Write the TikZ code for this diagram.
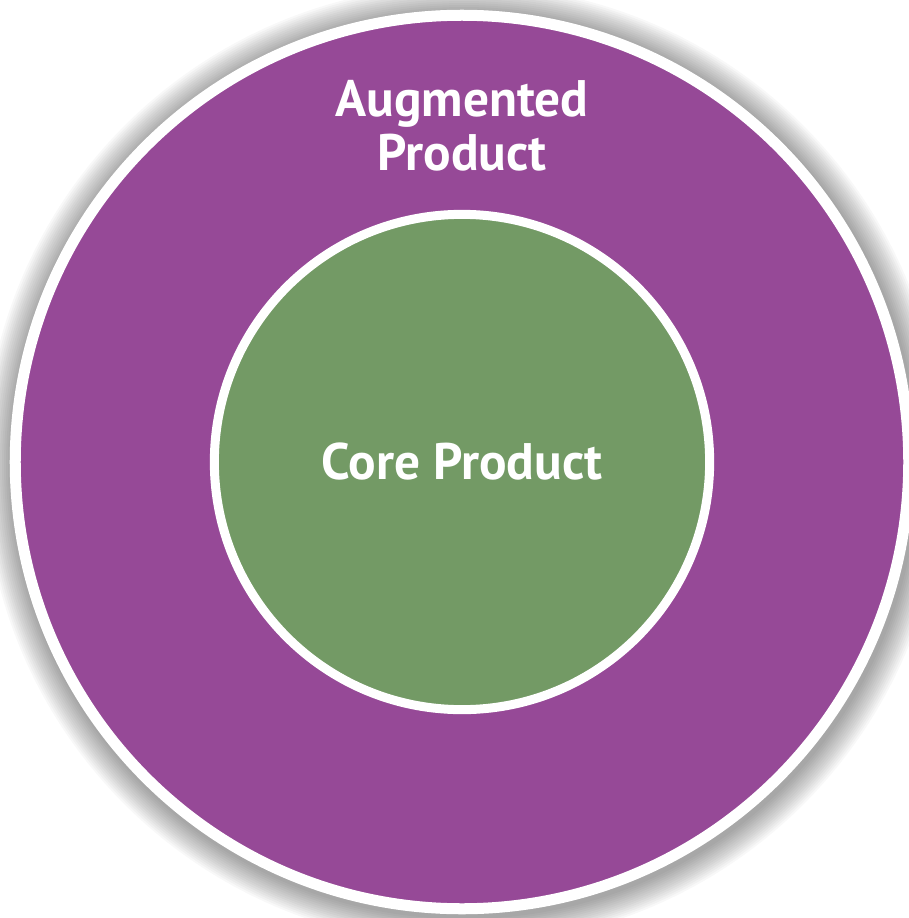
\documentclass[tikz,border=0pt]{standalone}
\usepackage{fontspec}
\setmainfont{PT Sans}
\definecolor{ringpurple}{RGB}{150,73,151}
\definecolor{coregreen}{RGB}{115,154,101}

\begin{document}
\begin{tikzpicture}[x=0.01cm,y=-0.01cm,
  ring/.style={circle, draw=white, inner sep=0pt},
  ringlabel/.style={text=white, font=\bfseries\fontsize{14.6}{15.5}\selectfont, align=center}]
\useasboundingbox (0,0) rectangle (909,918);
\fill[white] (0,0) rectangle (909,918);
% soft shadow round the outer ring
\foreach \i in {0,...,13}
  \fill[black, opacity=0.028] (464,465) circle ({480-2*\i});
\node[ring, fill=ringpurple, line width=0.11cm, minimum size=8.93cm] (augmented) at (462,462) {};
\node[ring, fill=coregreen, line width=0.09cm, minimum size=4.95cm] (core) at (462,462) {};
\node[ringlabel] (corelabel) at (core.center) {Core Product};
\node[ringlabel] (auglabel) at (462,126) {Augmented\\Product};
\end{tikzpicture}
\end{document}
